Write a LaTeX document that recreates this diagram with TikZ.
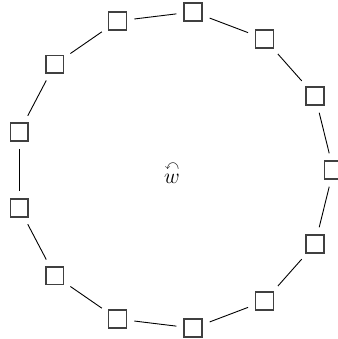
\documentclass[tikz,border=0pt]{standalone}
\usepackage{amsmath,amssymb}
\usetikzlibrary{positioning}

\begin{document}
\begin{tikzpicture}[>=latex, cell/.style={draw=black!75, line width=0.9pt, rectangle, minimum size=0.35cm, inner sep=0pt}, link/.style={line width=0.5pt, shorten >=4pt, shorten <=4pt}]
        \useasboundingbox (-3.407,-3.309) rectangle (3.192,3.329);
        \node[font=\large] (w) at (-0.04,-0.05) {$\overset{\curvearrowleft}{w}$};

        \node[cell] (c0) at (0*360/13:3.12) {};
        \node[cell] (c1) at (1*360/13:3.12) {};
        \node[cell] (c2) at (2*360/13:3.12) {};
        \node[cell] (c3) at (3*360/13:3.12) {};
        \node[cell] (c4) at (4*360/13:3.12) {};
        \node[cell] (c5) at (5*360/13:3.12) {};
        \node[cell] (c6) at (6*360/13:3.12) {};
        \node[cell] (c7) at (7*360/13:3.12) {};
        \node[cell] (c8) at (8*360/13:3.12) {};
        \node[cell] (c9) at (9*360/13:3.12) {};
        \node[cell] (c10) at (10*360/13:3.12) {};
        \node[cell] (c11) at (11*360/13:3.12) {};
        \node[cell] (c12) at (12*360/13:3.12) {};

        \draw[link] (c0) -- (c1);
        \draw[link] (c1) -- (c2);
        \draw[link] (c2) -- (c3);
        \draw[link] (c3) -- (c4);
        \draw[link] (c4) -- (c5);
        \draw[link] (c5) -- (c6);
        \draw[link] (c6) -- (c7);
        \draw[link] (c7) -- (c8);
        \draw[link] (c8) -- (c9);
        \draw[link] (c9) -- (c10);
        \draw[link] (c10) -- (c11);
        \draw[link] (c11) -- (c12);
        \draw[link] (c12) -- (c0);
    \end{tikzpicture}
\end{document}
